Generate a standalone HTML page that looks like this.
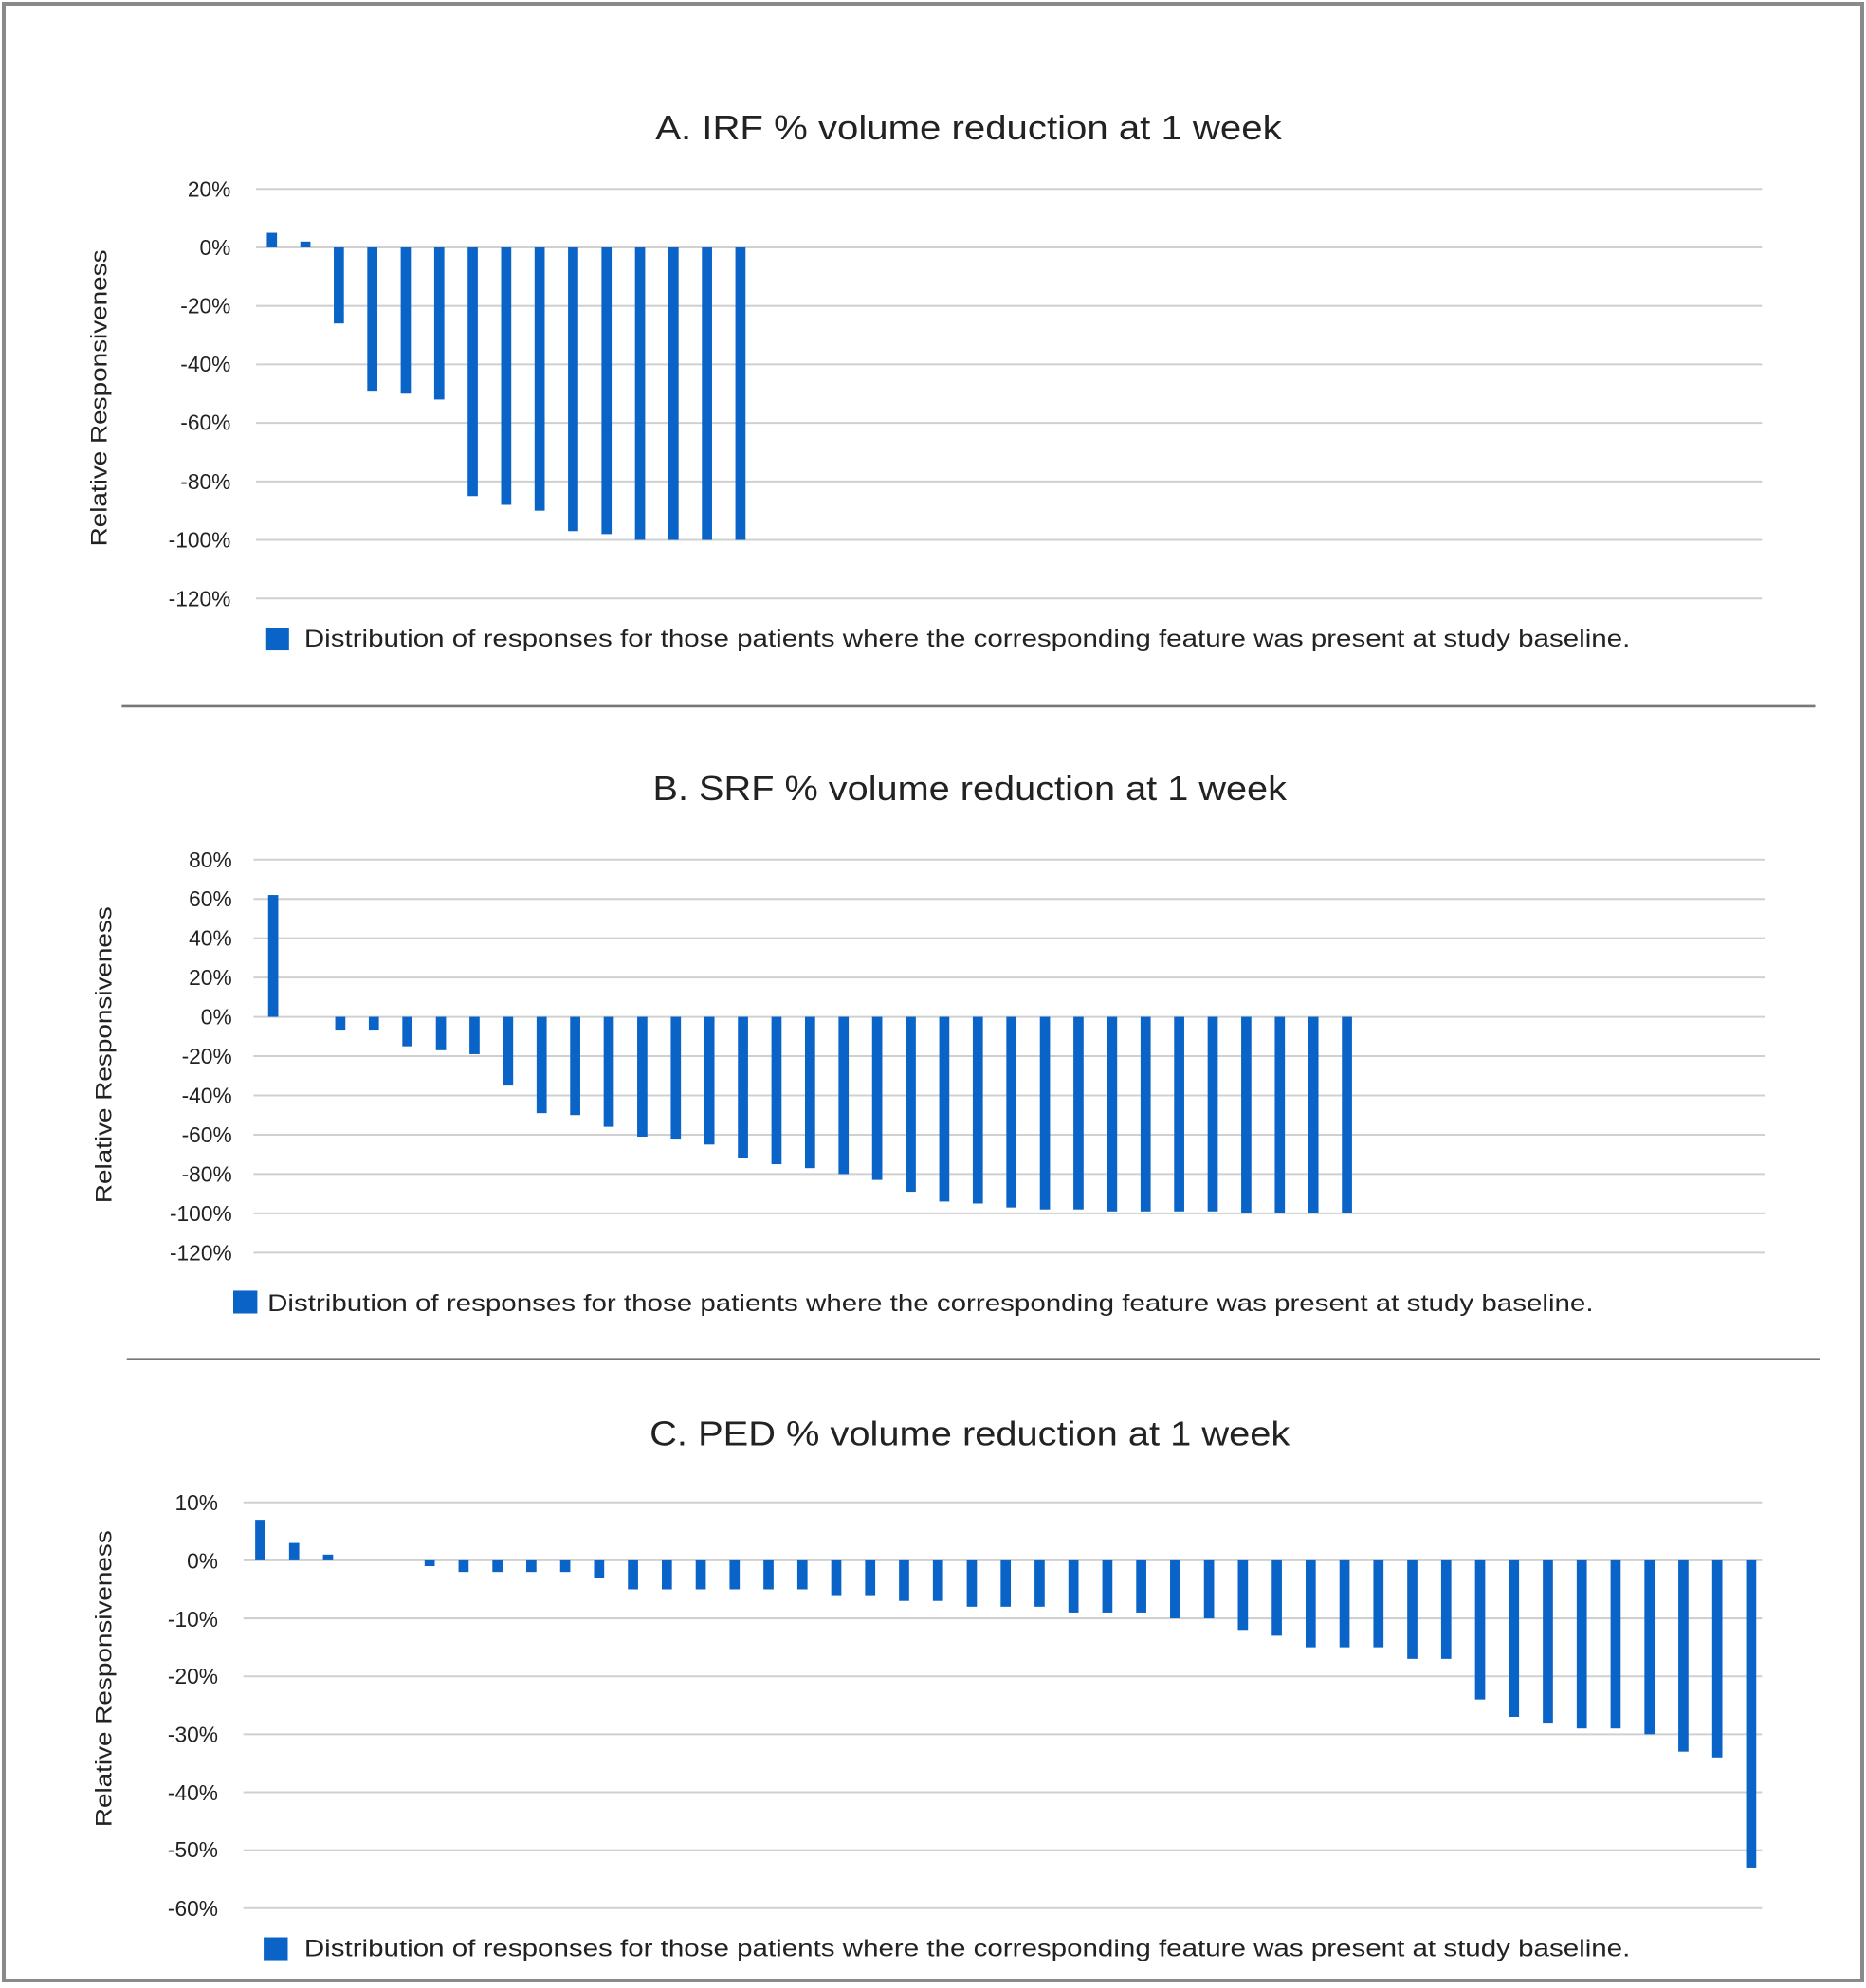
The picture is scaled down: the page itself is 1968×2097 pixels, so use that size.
<!DOCTYPE html>
<html><head><meta charset="utf-8"><style>
html,body{margin:0;padding:0;background:#fff}
svg{display:block}
text{font-family:"Liberation Sans",sans-serif;fill:#222}
</style></head><body>
<svg id="s" width="1968" height="2097" viewBox="0 0 1472 1568" preserveAspectRatio="none" xmlns="http://www.w3.org/2000/svg">
<rect x="0" y="0" width="1472" height="1568" fill="#fff"/>
<rect x="3" y="3" width="1466" height="1559" fill="none" stroke="#8a8a8a" stroke-width="3"/>
<g id="grid"></g>
<g id="bars" fill="#0a64c8"></g>
<text x="764" y="110" font-size="27" text-anchor="middle" textLength="494" lengthAdjust="spacingAndGlyphs">A. IRF % volume reduction at 1 week</text>
<text x="765" y="631" font-size="27" text-anchor="middle" textLength="500" lengthAdjust="spacingAndGlyphs">B. SRF % volume reduction at 1 week</text>
<text x="765" y="1140" font-size="27" text-anchor="middle" textLength="505" lengthAdjust="spacingAndGlyphs">C. PED % volume reduction at 1 week</text>
<text transform="translate(84,314) rotate(-90)" font-size="18" text-anchor="middle" textLength="234" lengthAdjust="spacingAndGlyphs">Relative Responsiveness</text>
<text transform="translate(88,832) rotate(-90)" font-size="18" text-anchor="middle" textLength="234" lengthAdjust="spacingAndGlyphs">Relative Responsiveness</text>
<text transform="translate(88,1324) rotate(-90)" font-size="18" text-anchor="middle" textLength="234" lengthAdjust="spacingAndGlyphs">Relative Responsiveness</text>
<rect x="210" y="495" width="18" height="18" fill="#0a64c8"/>
<text x="240" y="510" font-size="19" textLength="1046" lengthAdjust="spacingAndGlyphs">Distribution of responses for those patients where the corresponding feature was present at study baseline.</text>
<rect x="184" y="1018" width="19" height="18" fill="#0a64c8"/>
<text x="211" y="1034" font-size="19" textLength="1046" lengthAdjust="spacingAndGlyphs">Distribution of responses for those patients where the corresponding feature was present at study baseline.</text>
<rect x="208" y="1528" width="19" height="18" fill="#0a64c8"/>
<text x="240" y="1543" font-size="19" textLength="1046" lengthAdjust="spacingAndGlyphs">Distribution of responses for those patients where the corresponding feature was present at study baseline.</text>
<line x1="96" y1="557" x2="1432" y2="557" stroke="#777" stroke-width="2"/>
<line x1="100" y1="1072" x2="1436" y2="1072" stroke="#777" stroke-width="2"/>
<g id="labels" font-size="17" text-anchor="end">
<text x="182" y="155">20%</text><text x="182" y="201">0%</text><text x="182" y="247">-20%</text><text x="182" y="293">-40%</text><text x="182" y="339">-60%</text><text x="182" y="386">-80%</text><text x="182" y="432">-100%</text><text x="182" y="478">-120%</text>
<text x="183" y="684">80%</text><text x="183" y="715">60%</text><text x="183" y="746">40%</text><text x="183" y="777">20%</text><text x="183" y="808">0%</text><text x="183" y="839">-20%</text><text x="183" y="870">-40%</text><text x="183" y="901">-60%</text><text x="183" y="932">-80%</text><text x="183" y="963">-100%</text><text x="183" y="994">-120%</text>
<text x="172" y="1191">10%</text><text x="172" y="1237">0%</text><text x="172" y="1283">-10%</text><text x="172" y="1328">-20%</text><text x="172" y="1374">-30%</text><text x="172" y="1420">-40%</text><text x="172" y="1465">-50%</text><text x="172" y="1511">-60%</text>
</g>
</svg>
<script>
var NS="http://www.w3.org/2000/svg";
var g=document.getElementById("grid"),b=document.getElementById("bars");
function ln(x1,x2,y){var l=document.createElementNS(NS,"line");l.setAttribute("x1",x1);l.setAttribute("x2",x2);l.setAttribute("y1",y);l.setAttribute("y2",y);l.setAttribute("stroke","#d0d0d0");l.setAttribute("stroke-width","1.5");g.appendChild(l);}
function chart(x0,x1,yTop,yBot,vmax,vmin,step,vals,w,bx0,cw){
 var n=Math.round((vmax-vmin)/step);
 for(var i=0;i<=n;i++)ln(x0,x1,yTop+(yBot-yTop)*i/n);
 var sc=(yBot-yTop)/(vmax-vmin), y0=yTop+vmax*sc;
 vals.forEach(function(v,i){if(v===null)return;var cx=bx0+cw*i;var r=document.createElementNS(NS,"rect");
  var h=Math.abs(v)*sc;r.setAttribute("x",cx-w/2);r.setAttribute("width",w);r.setAttribute("y",v>0?y0-h:y0);r.setAttribute("height",h);b.appendChild(r);});
}
chart(202,1390,149,472,20,-120,20,[5,2,-26,-49,-50,-52,-85,-88,-90,-97,-98,-100,-100,-100,-100],8,214.5,26.4);
chart(200,1392,678,988,80,-120,20,[62,null,-7,-7,-15,-17,-19,-35,-49,-50,-56,-61,-62,-65,-72,-75,-77,-80,-83,-89,-94,-95,-97,-98,-98,-99,-99,-99,-99,-100,-100,-100,-100],8,215.5,26.47);
chart(192,1390,1185,1505,10,-60,10,[7,3,1,null,null,-1,-2,-2,-2,-2,-3,-5,-5,-5,-5,-5,-5,-6,-6,-7,-7,-8,-8,-8,-9,-9,-9,-10,-10,-12,-13,-15,-15,-15,-17,-17,-24,-27,-28,-29,-29,-30,-33,-34,-53],8,205.3,26.73);
</script>
</body></html>
